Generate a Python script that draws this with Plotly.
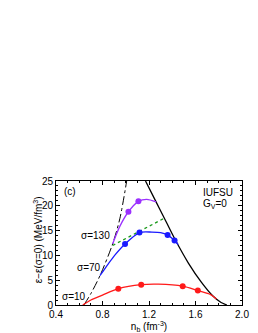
import plotly.graph_objects as go

# ---- data ----
dashdot_x = [0.64, 0.70, 0.778, 0.887, 0.95, 1.008]
dashdot_y = [0.0, 2.3, 5.9, 12.3, 17.5, 25.0]

black_x = [1.17, 1.25, 1.33, 1.42, 1.54, 1.65, 1.75, 1.82, 1.87]
black_y = [25.0, 21.3, 17.6, 13.4, 8.4, 4.6, 1.8, 0.5, 0.0]

red_x = [0.63, 0.70, 0.80, 0.936, 1.133, 1.28, 1.49, 1.62, 1.73, 1.78]
red_y = [0.0, 1.0, 2.0, 3.3, 4.1, 4.2, 3.8, 2.9, 2.1, 1.2]
red_mx = [0.936, 1.133, 1.49, 1.62]
red_my = [3.3, 4.1, 3.8, 2.9]

blue_x = [0.778, 0.85, 0.908, 0.994, 1.118, 1.225, 1.30, 1.36, 1.42, 1.45]
blue_y = [5.9, 8.3, 10.1, 12.3, 14.6, 14.7, 14.6, 14.1, 13.0, 12.2]
blue_mx = [0.994, 1.118, 1.36, 1.42]
blue_my = [12.3, 14.6, 14.1, 13.0]

purple_x = [0.887, 0.95, 1.023, 1.109, 1.18, 1.262]
purple_y = [12.3, 15.9, 18.8, 20.9, 21.3, 20.8]
purple_mx = [1.023, 1.109]
purple_my = [18.8, 20.9]

green_x = [0.887, 1.332]
green_y = [12.0, 17.5]

x_ticks = [0.4, 0.8, 1.2, 1.6, 2.0]
x_ticklabels = ["0.4", "0.8", "1.2", "1.6", "2.0"]
y_ticks = [0, 5, 10, 15, 20, 25]

FONT = "Liberation Sans, Arial, sans-serif"
RED = "#ff1a1a"
BLUE = "#1a1aff"
PURPLE = "#9b30ff"
GREEN = "#1a9a1a"

fig = go.Figure()

def line(x, y, color, dash="solid", width=1.3, shape="spline"):
    fig.add_trace(go.Scatter(x=x, y=y, mode="lines",
                             line=dict(color=color, width=width, dash=dash, shape=shape, smoothing=0.8),
                             showlegend=False, hoverinfo="skip"))

def markers(x, y, color):
    fig.add_trace(go.Scatter(x=x, y=y, mode="markers",
                             marker=dict(color=color, size=6),
                             showlegend=False, hoverinfo="skip"))

line(dashdot_x, dashdot_y, "black", dash="dashdot", width=1)
line(green_x, green_y, GREEN, dash="dot", width=1.3, shape="linear")
line(black_x, black_y, "black", width=1.3)
line(red_x, red_y, RED)
line(blue_x, blue_y, BLUE)
line(purple_x, purple_y, PURPLE)
markers(red_mx, red_my, RED)
markers(blue_mx, blue_my, BLUE)
markers(purple_mx, purple_my, PURPLE)

ann = [
    dict(x=0.52, y=22.8, text="(c)", xanchor="center"),
    dict(x=0.74, y=14.0, text="σ=130", xanchor="center"),
    dict(x=0.68, y=7.5, text="σ=70", xanchor="center"),
    dict(x=0.555, y=1.7, text="σ=10", xanchor="center"),
    dict(x=1.65, y=22.7, text="IUFSU", xanchor="left"),
    dict(x=1.65, y=20.4, text="G<sub>V</sub>=0", xanchor="left"),
]
for a in ann:
    fig.add_annotation(x=a["x"], y=a["y"], text=a["text"], xanchor=a["xanchor"],
                       yanchor="middle", showarrow=False,
                       font=dict(family=FONT, size=10, color="black"))

# y-axis title placed as a rotated paper annotation
fig.add_annotation(xref="paper", yref="paper", x=-0.097, y=0.53,
                   text="ε−ε(σ=0) (MeV/fm<sup>3</sup>)", textangle=-90,
                   xanchor="center", yanchor="middle", showarrow=False,
                   font=dict(family=FONT, size=10, color="black"))

axis_common = dict(showline=True, linecolor="black", linewidth=1, mirror="ticks",
                   ticks="inside", ticklen=4, tickcolor="black", tickwidth=1,
                   showgrid=False, zeroline=False,
                   tickfont=dict(family=FONT, size=10, color="black"))

fig.update_xaxes(range=[0.4, 2.0], tickvals=x_ticks, ticktext=x_ticklabels,
                 minor=dict(dtick=0.1, ticks="inside", ticklen=2, tickcolor="black"),
                 title=dict(text="n<sub>b</sub> (fm<sup>-3</sup>)", standoff=2,
                            font=dict(family=FONT, size=10, color="black")),
                 **axis_common)
fig.update_yaxes(range=[0, 25], tickvals=y_ticks,
                 minor=dict(dtick=1, ticks="inside", ticklen=2, tickcolor="black"),
                 **axis_common)

fig.update_layout(width=258, height=333, margin=dict(l=48, r=24, t=173, b=31),
                  plot_bgcolor="white", paper_bgcolor="white",
                  font=dict(family=FONT, size=10, color="black"))

fig.write_html("out.html")
